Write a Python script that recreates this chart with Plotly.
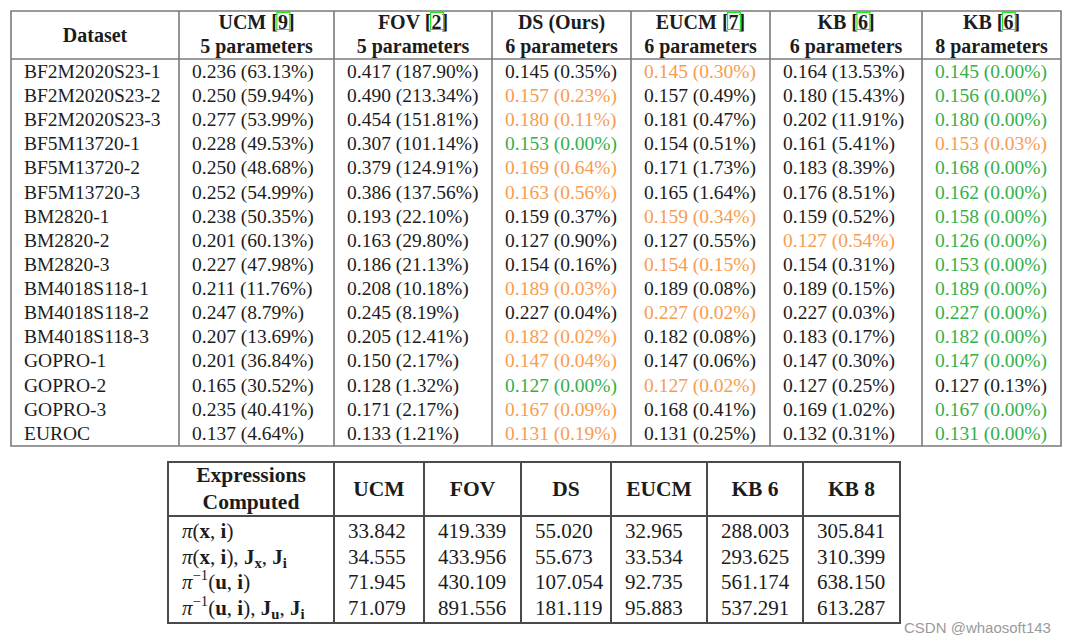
import plotly.graph_objects as go

# ---------------- data: top table ----------------
datasets = ["BF2M2020S23-1", "BF2M2020S23-2", "BF2M2020S23-3", "BF5M13720-1", "BF5M13720-2",
            "BF5M13720-3", "BM2820-1", "BM2820-2", "BM2820-3", "BM4018S118-1", "BM4018S118-2",
            "BM4018S118-3", "GOPRO-1", "GOPRO-2", "GOPRO-3", "EUROC"]
ucm_err = [0.236, 0.250, 0.277, 0.228, 0.250, 0.252, 0.238, 0.201, 0.227, 0.211, 0.247, 0.207, 0.201, 0.165, 0.235, 0.137]
ucm_pct = [63.13, 59.94, 53.99, 49.53, 48.68, 54.99, 50.35, 60.13, 47.98, 11.76, 8.79, 13.69, 36.84, 30.52, 40.41, 4.64]
fov_err = [0.417, 0.490, 0.454, 0.307, 0.379, 0.386, 0.193, 0.163, 0.186, 0.208, 0.245, 0.205, 0.150, 0.128, 0.171, 0.133]
fov_pct = [187.90, 213.34, 151.81, 101.14, 124.91, 137.56, 22.10, 29.80, 21.13, 10.18, 8.19, 12.41, 2.17, 1.32, 2.17, 1.21]
ds_err = [0.145, 0.157, 0.180, 0.153, 0.169, 0.163, 0.159, 0.127, 0.154, 0.189, 0.227, 0.182, 0.147, 0.127, 0.167, 0.131]
ds_pct = [0.35, 0.23, 0.11, 0.00, 0.64, 0.56, 0.37, 0.90, 0.16, 0.03, 0.04, 0.02, 0.04, 0.00, 0.09, 0.19]
eucm_err = [0.145, 0.157, 0.181, 0.154, 0.171, 0.165, 0.159, 0.127, 0.154, 0.189, 0.227, 0.182, 0.147, 0.127, 0.168, 0.131]
eucm_pct = [0.30, 0.49, 0.47, 0.51, 1.73, 1.64, 0.34, 0.55, 0.15, 0.08, 0.02, 0.08, 0.06, 0.02, 0.41, 0.25]
kb6_err = [0.164, 0.180, 0.202, 0.161, 0.183, 0.176, 0.159, 0.127, 0.154, 0.189, 0.227, 0.183, 0.147, 0.127, 0.169, 0.132]
kb6_pct = [13.53, 15.43, 11.91, 5.41, 8.39, 8.51, 0.52, 0.54, 0.31, 0.15, 0.03, 0.17, 0.30, 0.25, 1.02, 0.31]
kb8_err = [0.145, 0.156, 0.180, 0.153, 0.168, 0.162, 0.158, 0.126, 0.153, 0.189, 0.227, 0.182, 0.147, 0.127, 0.167, 0.131]
kb8_pct = [0.00, 0.00, 0.00, 0.03, 0.00, 0.00, 0.00, 0.00, 0.00, 0.00, 0.00, 0.00, 0.00, 0.13, 0.00, 0.00]

top_models = ["UCM", "FOV", "DS (Ours)", "EUCM", "KB", "KB"]
top_cites = ["9", "2", None, "7", "6", "6"]
top_params = ["5 parameters", "5 parameters", "6 parameters", "6 parameters", "6 parameters", "8 parameters"]

# ---------------- data: bottom table ----------------
expr_labels = [
    "<i>π</i>(<b>x</b>, <b>i</b>)",
    "<i>π</i>(<b>x</b>, <b>i</b>), <b>J</b><sub><b>x</b></sub>, <b>J</b><sub><b>i</b></sub>",
    "<i>π</i><sup>−1</sup>(<b>u</b>, <b>i</b>)",
    "<i>π</i><sup>−1</sup>(<b>u</b>, <b>i</b>), <b>J</b><sub><b>u</b></sub>, <b>J</b><sub><b>i</b></sub>",
]
bottom_models = ["UCM", "FOV", "DS", "EUCM", "KB 6", "KB 8"]
ucm_t = [33.842, 34.555, 71.945, 71.079]
fov_t = [419.339, 433.956, 430.109, 891.556]
ds_t = [55.020, 55.673, 107.054, 181.119]
eucm_t = [32.965, 33.534, 92.735, 95.883]
kb6_t = [288.003, 293.625, 561.174, 537.291]
kb8_t = [305.841, 310.399, 638.150, 613.287]

# ---------------- styles / layout ----------------
SERIF = "Liberation Serif"
BLACK = "#1c1c1c"
GREEN = "#33b04a"
ORANGE = "#f89c50"
W, H = 1075, 642
OFF = 8  # page body margin

T_EDGES = [11, 179, 334, 492, 631, 770, 922, 1061]
T_TOP, T_HDR, T_BOT = 11, 59, 446
T_ROW0, T_PITCH = 73, 24.13
T_PAD = 13
T_BODY, T_HEAD = 19.5, 20

B_EDGES = [168, 334, 424, 521, 611, 707, 803, 900]
B_TOP, B_HDR, B_BOT = 462, 516, 623
B_ROW0, B_PITCH = 533, 25.5
B_PAD = 14
B_BODY, B_HEAD = 21, 21.5

fig = go.Figure()


def text_trace(xs, ys, texts, colors, size, pos="middle right"):
    fig.add_trace(go.Scatter(
        x=xs, y=ys, text=texts, mode="text", textposition=pos,
        textfont=dict(family=SERIF, size=size, color=colors),
        hoverinfo="skip", showlegend=False, cliponaxis=False))


# ----- top table body -----
n = len(datasets)
row_y = [T_ROW0 + i * T_PITCH for i in range(n)]
text_trace([T_EDGES[0] + T_PAD] * n, row_y, datasets, [BLACK] * n, T_BODY)

errs = [ucm_err, fov_err, ds_err, eucm_err, kb6_err, kb8_err]
pcts = [ucm_pct, fov_pct, ds_pct, eucm_pct, kb6_pct, kb8_pct]
colors = [[BLACK] * n for _ in errs]
for i in range(n):
    order = sorted(range(len(pcts)), key=lambda c: pcts[c][i])
    colors[order[0]][i] = GREEN
    colors[order[1]][i] = ORANGE
for c in range(len(errs)):
    txt = [f"{e:.3f} ({p:.2f}%)" for e, p in zip(errs[c], pcts[c])]
    text_trace([T_EDGES[c + 1] + T_PAD] * n, row_y, txt, colors[c], T_BODY)

# ----- top table header -----
text_trace([(T_EDGES[0] + T_EDGES[1]) / 2], [(T_TOP + T_HDR) / 2 + 2], ["<b>Dataset</b>"], [BLACK], T_HEAD, "middle center")
cx = [(T_EDGES[c + 1] + T_EDGES[c + 2]) / 2 for c in range(len(top_models))]
l1 = [f"<b>{m} [{ct}]</b>" if ct else f"<b>{m}</b>" for m, ct in zip(top_models, top_cites)]
text_trace(cx, [24] * len(cx), l1, [BLACK] * len(cx), T_HEAD, "middle center")
text_trace(cx, [48] * len(cx), [f"<b>{p}</b>" for p in top_params], [BLACK] * len(cx), T_HEAD, "middle center")

# green citation boxes (Times bold advance widths, em)
BW = {"U": .722, "C": .722, "M": .944, " ": .25, "[": .333, "]": .333, "F": .611, "O": .778,
      "V": .722, "E": .667, "K": .778, "B": .667, "0": .5, "1": .5, "2": .5, "3": .5, "4": .5,
      "5": .5, "6": .5, "7": .5, "8": .5, "9": .5}
shapes = []
for c, (m, ct) in enumerate(zip(top_models, top_cites)):
    if not ct:
        continue
    s = f"{m} [{ct}]"
    wtot = sum(BW.get(ch, .5) for ch in s) * T_HEAD
    start = cx[c] - wtot / 2 + sum(BW.get(ch, .5) for ch in f"{m} [") * T_HEAD
    shapes.append(dict(type="rect", xref="x", yref="y", x0=start - 1, x1=start + 0.5 * T_HEAD + 2,
                       y0=12.5, y1=29.5, line=dict(color="#22e622", width=1.2)))

# top table lines
TL = dict(color="#7a7a7a", width=1.6)
shapes.append(dict(type="rect", xref="x", yref="y", x0=T_EDGES[0], x1=T_EDGES[-1], y0=T_TOP, y1=T_BOT, line=TL))
shapes.append(dict(type="line", xref="x", yref="y", x0=T_EDGES[0], x1=T_EDGES[-1], y0=T_HDR, y1=T_HDR, line=TL))
for xe in T_EDGES[1:-1]:
    shapes.append(dict(type="line", xref="x", yref="y", x0=xe, x1=xe, y0=T_TOP, y1=T_BOT, line=TL))

# ----- bottom table -----
m = len(expr_labels)
brow_y = [B_ROW0 + i * B_PITCH for i in range(m)]
text_trace([B_EDGES[0] + B_PAD] * m, brow_y, expr_labels, [BLACK] * m, B_BODY)
for c, vals in enumerate([ucm_t, fov_t, ds_t, eucm_t, kb6_t, kb8_t]):
    text_trace([B_EDGES[c + 1] + B_PAD] * m, brow_y, [f"{v:.3f}" for v in vals], [BLACK] * m, B_BODY)

bx0 = (B_EDGES[0] + B_EDGES[1]) / 2
text_trace([bx0, bx0], [477, 504], ["<b>Expressions</b>", "<b>Computed</b>"], [BLACK] * 2, B_HEAD, "middle center")
bcx = [(B_EDGES[c + 1] + B_EDGES[c + 2]) / 2 for c in range(len(bottom_models))]
text_trace(bcx, [491] * len(bcx), [f"<b>{b}</b>" for b in bottom_models], [BLACK] * len(bcx), B_HEAD, "middle center")

BL = dict(color="#4a4a4a", width=2)
shapes.append(dict(type="rect", xref="x", yref="y", x0=B_EDGES[0], x1=B_EDGES[-1], y0=B_TOP, y1=B_BOT, line=BL))
shapes.append(dict(type="line", xref="x", yref="y", x0=B_EDGES[0], x1=B_EDGES[-1], y0=B_HDR, y1=B_HDR, line=BL))
for xe in B_EDGES[1:-1]:
    shapes.append(dict(type="line", xref="x", yref="y", x0=xe, x1=xe, y0=B_TOP, y1=B_BOT, line=BL))

fig.update_layout(
    width=W - OFF, height=H - OFF, margin=dict(l=0, r=0, t=0, b=0),
    paper_bgcolor="white", plot_bgcolor="white", shapes=shapes,
    xaxis=dict(range=[OFF, W], visible=False, fixedrange=True),
    yaxis=dict(range=[H, OFF], visible=False, fixedrange=True),
    annotations=[dict(text="CSDN @whaosoft143", x=902, y=627, xref="x", yref="y", xanchor="left",
                      yanchor="middle", showarrow=False,
                      font=dict(family="Liberation Sans", size=15, color="#9a9a9a"))],
)

fig.write_html("out.html")
